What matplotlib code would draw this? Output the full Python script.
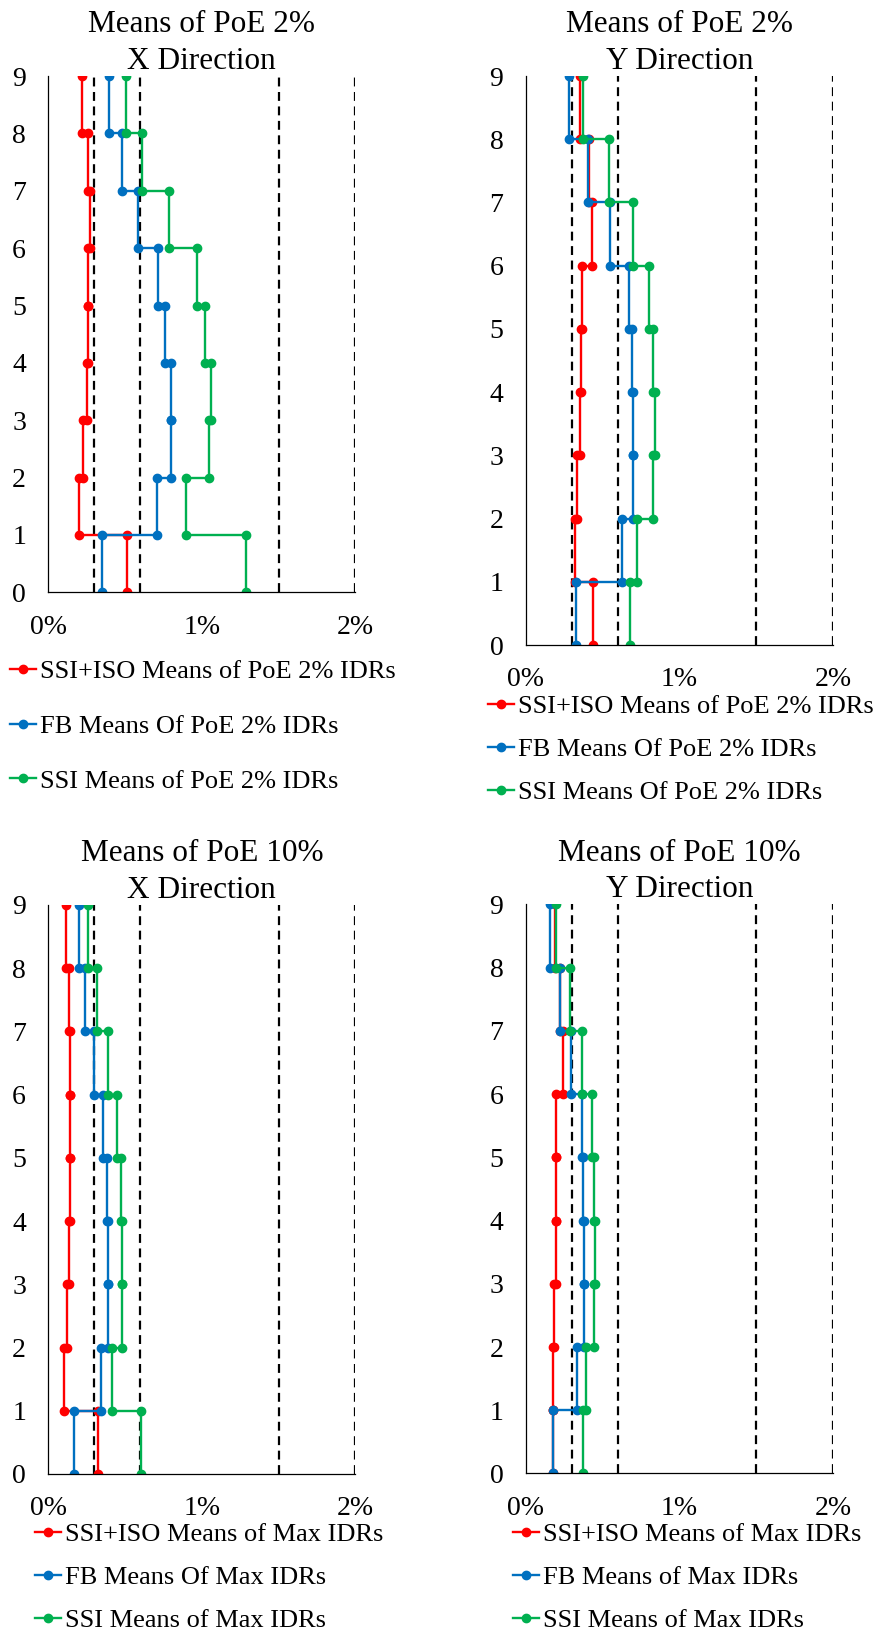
import numpy as np
import matplotlib
matplotlib.use("Agg")
import matplotlib.pyplot as plt
from matplotlib.ticker import PercentFormatter

plt.rcParams['font.family'] = ['Liberation Serif', 'DejaVu Serif']

# storey drift ratios (%) for stories 1..9
floors = np.arange(10)
limits = [0.3, 0.6, 1.5, 2.0]

x2_ssi_iso = [0.513, 0.198, 0.228, 0.25, 0.256, 0.26, 0.27, 0.256, 0.217]
x2_fb = [0.352, 0.708, 0.799, 0.797, 0.76, 0.712, 0.586, 0.478, 0.393]
x2_ssi = [1.286, 0.897, 1.049, 1.058, 1.02, 0.966, 0.788, 0.612, 0.506]

y2_ssi_iso = [0.436, 0.319, 0.336, 0.353, 0.357, 0.364, 0.429, 0.41, 0.353]
y2_fb = [0.327, 0.628, 0.696, 0.70, 0.689, 0.674, 0.55, 0.407, 0.284]
y2_ssi = [0.68, 0.722, 0.826, 0.841, 0.83, 0.804, 0.70, 0.54, 0.375]

x10_ssi_iso = [0.321, 0.104, 0.12, 0.135, 0.141, 0.143, 0.141, 0.137, 0.115]
x10_fb = [0.169, 0.341, 0.391, 0.391, 0.38, 0.354, 0.298, 0.239, 0.2]
x10_ssi = [0.604, 0.413, 0.478, 0.478, 0.471, 0.445, 0.387, 0.315, 0.26]

y10_ssi_iso = [0.18, 0.18, 0.186, 0.197, 0.197, 0.197, 0.24, 0.223, 0.19]
y10_fb = [0.18, 0.336, 0.379, 0.379, 0.37, 0.364, 0.295, 0.223, 0.158]
y10_ssi = [0.37, 0.392, 0.446, 0.451, 0.444, 0.433, 0.364, 0.288, 0.2]

colors = ['#FF0000', '#0070C0', '#00B050']

panels = [
    ("Means of PoE 2%\nX Direction", [x2_ssi_iso, x2_fb, x2_ssi],
     ["SSI+ISO Means of PoE 2% IDRs", "FB Means Of PoE 2% IDRs", "SSI Means of PoE 2% IDRs"],
     [0.0551, 0.6377, 0.3501, 0.3158], (10, 660), 1.18),
    ("Means of PoE 2%\nY Direction", [y2_ssi_iso, y2_fb, y2_ssi],
     ["SSI+ISO Means of PoE 2% IDRs", "FB Means Of PoE 2% IDRs", "SSI Means Of PoE 2% IDRs"],
     [0.5994, 0.6055, 0.3507, 0.3480], (488, 695), 0.73),
    ("Means of PoE 10%\nX Direction", [x10_ssi_iso, x10_fb, x10_ssi],
     ["SSI+ISO Means of Max IDRs", "FB Means Of Max IDRs", "SSI Means of Max IDRs"],
     [0.0551, 0.0985, 0.3501, 0.3480], (35, 1523), 0.73),
    ("Means of PoE 10%\nY Direction", [y10_ssi_iso, y10_fb, y10_ssi],
     ["SSI+ISO Means of Max IDRs", "FB Means of Max IDRs", "SSI Means of Max IDRs"],
     [0.5994, 0.0988, 0.3507, 0.3480], (513, 1523), 0.73),
]

W, H = 877, 1635
fig = plt.figure(figsize=(W / 100, H / 100), dpi=100)

# step profile: story s spans floor s-1 to floor s
ys = np.repeat(floors, 2)[1:-1]

for title, series, labels, pos, leg_xy, spacing in panels:
    ax = fig.add_axes(pos)
    ax.vlines(limits, 0, 9, colors='black', linestyles=(0, (4, 2.5)), lw=1.6, zorder=1)
    handles = []
    for vals, c, lab in zip(series, colors, labels):
        xs = np.repeat(vals, 2)
        h, = ax.plot(xs, ys, color=c, lw=1.7, marker='o', ms=6, label=lab, zorder=2)
        handles.append(h)
    ax.set_xlim(0, 2)
    ax.set_ylim(0, 9)
    ax.set_xticks([0, 1, 2])
    ax.set_yticks(floors)
    ax.xaxis.set_major_formatter(PercentFormatter(xmax=100, decimals=0))
    ax.tick_params(length=0, pad=16, labelsize=20)
    for s in ['top', 'right']:
        ax.spines[s].set_visible(False)
    for s in ['left', 'bottom']:
        ax.spines[s].set_linewidth(0.9)
    ax.set_title(title, fontsize=22.5, pad=3, linespacing=1.35)
    fig.legend(handles=handles, loc='upper left',
               bbox_to_anchor=(leg_xy[0] / W, 1 - leg_xy[1] / H),
               frameon=False, fontsize=19, borderpad=0, borderaxespad=0,
               handlelength=1.0, handletextpad=0.12, labelspacing=spacing)

fig.savefig('out.png', dpi=100)
